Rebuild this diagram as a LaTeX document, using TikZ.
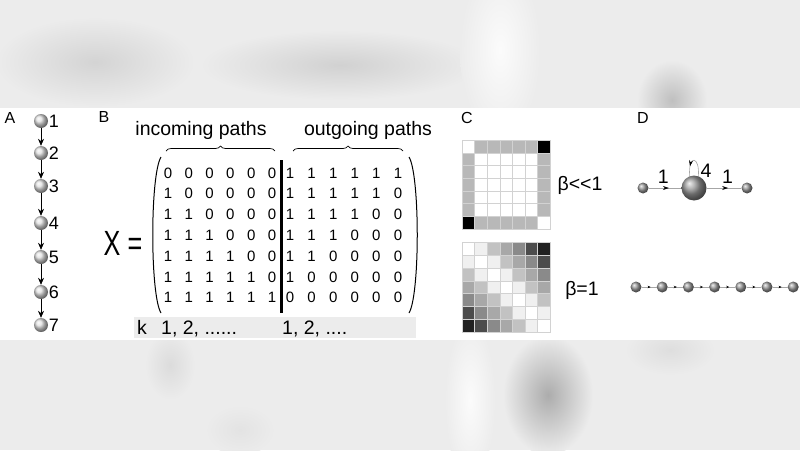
\documentclass[tikz,border=0pt]{standalone}
\usepackage{fontspec}
\setmainfont{Liberation Sans}
\usetikzlibrary{arrows.meta, positioning, decorations.pathreplacing, decorations.markings}
\definecolor{bandgray}{RGB}{236, 236, 236}
\definecolor{kgray}{RGB}{236, 236, 236}

\begin{document}
\begin{tikzpicture}[x=1pt, y=-1pt,
    panel/.style={font=\fontsize{16}{18}\selectfont, inner sep=0pt},
    aball/.style={circle, shading=ball, ball color=gray!25, minimum size=14pt, inner sep=0pt},
    dball/.style={circle, shading=ball, ball color=gray!80, minimum size=11pt, inner sep=0pt},
    dbig/.style={dball, minimum size=25pt},
    num/.style={font=\fontsize{18}{20}\selectfont, inner sep=0.5pt},
    entry/.style={font=\fontsize{15}{17}\selectfont, inner sep=0pt},
    title/.style={font=\fontsize{19.5}{22}\selectfont, inner sep=0pt, text=black},
    cell/.style={draw=gray!35, line width=0.4pt},
    chain/.style={-{Stealth[length=7pt, width=6pt]}, black, line width=0.7pt},
    midarrow/.style={gray!70, line width=0.6pt, postaction={decorate},
        decoration={markings, mark=at position #1 with {\arrow[black]{Stealth[length=6pt, width=4pt]}}}},
    midarrow/.default=0.62,
    tinyarrow/.style={gray!70, line width=0.5pt, postaction={decorate},
        decoration={markings, mark=at position 0.6 with {\arrow[black]{Stealth[length=3pt, width=2.5pt]}}}}
]
\useasboundingbox (0,0) rectangle (800,450);

% blurred background
\fill[bandgray] (0,0) rectangle (800,108);
\fill[bandgray] (0,340) rectangle (800,450);
\begin{scope}
\clip (0,0) rectangle (800,108);
\shade[inner color=gray!34, outer color=bandgray] (95,62) ellipse [x radius=100pt, y radius=45pt];
\shade[inner color=gray!36, outer color=bandgray] (340,65) ellipse [x radius=140pt, y radius=35pt];
\shade[inner color=gray!3, outer color=bandgray] (500,50) ellipse [x radius=40pt, y radius=90pt];
\shade[inner color=gray!50, outer color=bandgray] (672,100) ellipse [x radius=35pt, y radius=40pt];
\end{scope}
\begin{scope}
\clip (0,340) rectangle (800,450);
\shade[inner color=gray!65, outer color=bandgray] (548,395) ellipse [x radius=45pt, y radius=60pt];
\shade[inner color=gray!28, outer color=bandgray] (170,365) ellipse [x radius=25pt, y radius=35pt];
\shade[inner color=gray!22, outer color=bandgray] (240,430) ellipse [x radius=35pt, y radius=25pt];
\shade[inner color=gray!26, outer color=bandgray] (670,350) ellipse [x radius=45pt, y radius=25pt];
\shade[inner color=gray!3, outer color=bandgray] (470,400) ellipse [x radius=25pt, y radius=80pt];
\end{scope}
\fill[white] (0,108) rectangle (800,340);

% panel letters
\node[panel] (lA) at (10,118) {A};
\node[panel] (lB) at (104,117) {B};
\node[panel] (lC) at (467,118) {C};
\node[panel] (lD) at (643,118) {D};

% A: path of seven nodes
\foreach \i/\y in {1/121, 2/153, 3/186, 4/223, 5/257, 6/292, 7/325}
    \node[aball, label={[num]right:\i}] (a\i) at (41,\y) {};
\foreach \i [evaluate=\i as \j using int(\i+1)] in {1,...,6}
    \draw[chain] (a\i) -- (a\j);

% B: the matrix X
\node[title] (inc) at (201,130) {incoming paths};
\node[title] (outg) at (368,130) {outgoing paths};
\draw[decorate, decoration={brace, amplitude=5pt}, line width=0.7pt] (166,151) -- (275,151);
\draw[decorate, decoration={brace, amplitude=5pt}, line width=0.7pt] (293,151) -- (403,151);

\node[font=\fontsize{35}{38}\selectfont, inner sep=0pt, transform shape, xscale=0.72] (X) at (123,243) {X =};

\draw[line width=1pt] (161,157) .. controls (150,175) and (150,295) .. (161,313);
\draw[line width=1pt] (409,157) .. controls (420,175) and (420,295) .. (409,313);
\draw[line width=3pt] (281,160) -- (281,313);

\foreach \r in {1,...,7}
  \foreach \c in {1,...,6} {
    \pgfmathtruncatemacro\vin{\c<\r}
    \pgfmathtruncatemacro\vout{\c+\r<8}
    \node[entry] (in-\r-\c) at ({168+(\c-1)*20.8},{173+(\r-1)*20.8}) {\vin};
    \node[entry] (out-\r-\c) at ({290+(\c-1)*21.6},{173+(\r-1)*20.8}) {\vout};
  }

% k row
\fill[kgray] (134,317) rectangle (416,338);
\node[title, anchor=base west] (k) at (137,334) {k};
\node[title, anchor=base west] (kin) at (161,334) {1, 2, ......};
\node[title, anchor=base west] (kout) at (282,334) {1, 2, ....};

% C: the two grids
\foreach \r in {0,...,6}
  \foreach \c in {0,...,6} {
    \pgfmathtruncatemacro\edge{or(or(\r==0,\r==6),or(\c==0,\c==6))}
    \pgfmathtruncatemacro\dk{or(and(\r==0,\c==6),and(\r==6,\c==0))}
    \pgfmathtruncatemacro\lt{or(and(\r==0,\c==0),and(\r==6,\c==6))}
    \pgfmathtruncatemacro\w{\edge*(72*(1-\dk-\lt)+100*\lt)+(1-\edge)*100}
    \filldraw[cell, fill=white!\w!black] ({462+\c*12.6},{140+\r*12.7}) rectangle ++(12.6,12.7);
    \pgfmathtruncatemacro\d{abs(\r-\c)}
    \pgfmathtruncatemacro\g{{100,94,76,66,54,30,13}[\d]}
    \filldraw[cell, fill=white!\g!black] ({462+\c*12.6},{242+\r*12.9}) rectangle ++(12.6,12.9);
  }
\node[title] (bsmall) at (580,185) {β<{}<1};
\node[title] (bone) at (582,290) {β=1};

% D: the two graphs
\node[dball] (d1) at (643,188) {};
\node[dbig] (d2) at (694,188) {};
\node[dball] (d3) at (747,188) {};
\draw[midarrow] (d1) -- node[title, above=4pt, pos=0.45] (w1) {1} (d2);
\draw[midarrow] (d2) -- node[title, above=4pt, pos=0.6] (w3) {1} (d3);
\draw[midarrow=0.72] (d2.70) .. controls (700,156) and (688,154) .. (d2.110);
\node[title] (w2) at (706,171) {4};

\foreach \i in {1,...,7}
    \node[dball] (c\i) at ({636+(\i-1)*26.2},287) {};
\foreach \i [evaluate=\i as \j using int(\i+1)] in {1,...,6}
    \draw[tinyarrow] (c\i) -- (c\j);

\end{tikzpicture}
\end{document}
